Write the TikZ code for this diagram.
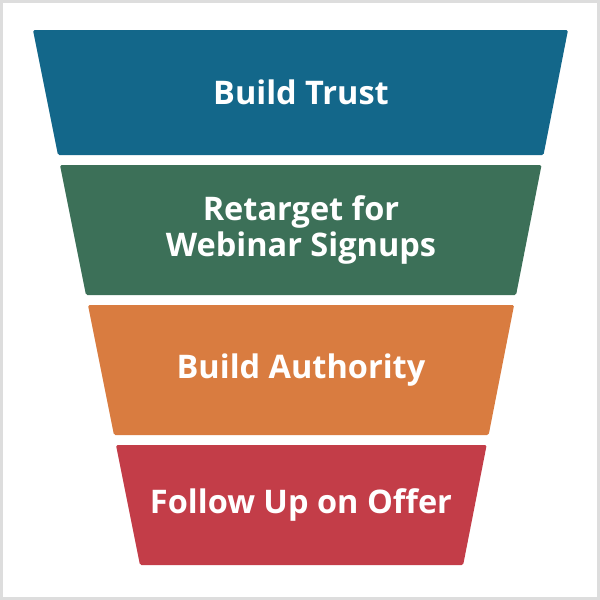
\documentclass[tikz,border=0pt]{standalone}
\usepackage{fontspec}
\setmainfont{Open Sans}
\definecolor{framegray}{HTML}{DDDDDD}
\definecolor{trustblue}{HTML}{13678A}
\definecolor{retargetgreen}{HTML}{3C7058}
\definecolor{authorityorange}{HTML}{D97C40}
\definecolor{offerred}{HTML}{C33D48}
\begin{document}
\begin{tikzpicture}[x=1pt, y=-1pt,
  bandtext/.style = {text=white, font=\bfseries\fontsize{32.5}{36}\selectfont, align=center}]
  % frame
  \fill[framegray] (0,0) rectangle (600,600);
  \fill[white] (3,3) rectangle (597,597);
  % funnel bands
  \foreach \ya/\yb/\col/\id/\txt in {30/155/trustblue/trust/{Build Trust},
      165/295/retargetgreen/retarget/{Retarget for\\Webinar Signups},
      305/435/authorityorange/authority/{Build Authority},
      445/565/offerred/offer/{Follow Up on Offer}} {
    \fill[\col, rounded corners=1.5pt] ({33+0.2*(\ya-30)},\ya) -- ({568-0.196*(\ya-30)},\ya)
      -- ({568-0.196*(\yb-30)},\yb) -- ({33+0.2*(\yb-30)},\yb) -- cycle;
    \node[bandtext] (\id) at (301,{(\ya+\yb)/2}) {\txt};
  }
\end{tikzpicture}
\end{document}
